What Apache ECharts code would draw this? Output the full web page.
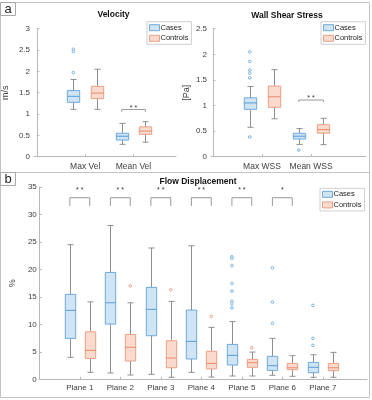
<!DOCTYPE html>
<html>
<head>
<meta charset="utf-8">
<script src="https://cdn.jsdelivr.net/npm/echarts@6/dist/echarts.min.js"></script>
<style>
  html, body { margin: 0; padding: 0; background: #fff; }
  #main { width: 372px; height: 400px; }
</style>
</head>
<body>
<div id="main"></div>
<script>
// box stats are [lower whisker, Q1, median, Q3, upper whisker]
const velCategories = ["Max Vel", "Mean Vel"];
const velCases = [[1.11, 1.275, 1.415, 1.55, 1.81], [0.29, 0.39, 0.48, 0.55, 0.78]];
const velControls = [[1.11, 1.36, 1.49, 1.65, 2.05], [0.34, 0.525, 0.6, 0.7, 0.82]];
const velCasesOutliers = [[2.52, 2.46, 1.97], []];
const velControlsOutliers = [[], []];
const velSignificance = ["", "* *"];

const wssCategories = ["Max WSS", "Mean WSS"];
const wssCases = [[0.574, 0.925, 1.05, 1.15, 1.37], [0.24, 0.345, 0.4, 0.457, 0.55]];
const wssControls = [[0.74, 0.965, 1.17, 1.38, 1.7], [0.235, 0.46, 0.53, 0.625, 0.75]];
const wssCasesOutliers = [[2.05, 1.86, 1.69, 1.63, 1.54, 0.385], [0.13]];
const wssControlsOutliers = [[], []];
const wssSignificance = ["", "* *"];

const flowCategories = ["Plane 1", "Plane 2", "Plane 3", "Plane 4", "Plane 5", "Plane 6", "Plane 7"];
const flowCases = [
  [4.0, 7.45, 12.55, 15.45, 24.5],
  [1.15, 10.05, 13.93, 19.45, 28.0],
  [0.9, 7.93, 12.73, 16.73, 23.9],
  [1.27, 3.7, 6.9, 12.6, 24.3],
  [0.6, 2.6, 4.35, 6.35, 10.5],
  [0.73, 1.63, 2.47, 4.18, 7.45],
  [0.36, 1.2, 2.18, 3.08, 4.47]
];
const flowControls = [
  [1.27, 3.8, 5.27, 8.65, 14.1],
  [0.78, 3.33, 5.82, 8.18, 13.93],
  [0.36, 2.1, 3.87, 7.02, 14.18],
  [0.4, 1.9, 2.9, 5.1, 9.45],
  [0.6, 2.18, 3.02, 3.63, 4.96],
  [0.55, 1.75, 2.1, 2.9, 4.3],
  [0.36, 1.56, 2.1, 2.9, 4.9]
];
const flowCasesOutliers = [[], [], [], [], [22.3, 22.0, 20.7, 17.45, 16.05, 14.2, 13.75, 13.0], [20.3, 14.05, 10.18], [13.45, 7.45, 6.18]];
const flowControlsOutliers = [[], [17.0], [16.3], [11.45], [5.75], [], []];
const flowSignificance = ["* *", "* *", "* *", "* *", "* *", "*", ""];

const FONT = "Liberation Sans";
const axisColor = "#b8b8b8";
const labelColor = "#404040";
const whiskerColor = "#8f8f8f";
const casesStyle = { fill: "#cfe4f4", stroke: "#6ea9db", median: "#5b9bd5", outlier: "#6eaadf" };
const controlsStyle = { fill: "#f9dacd", stroke: "#eba086", median: "#e58b6c", outlier: "#e9957a" };

const panels = [
  {
    cats: velCategories, cases: velCases, controls: velControls,
    casesOut: velCasesOutliers, controlsOut: velControlsOutliers, sig: velSignificance,
    grid: { left: 31, top: 28.7, width: 145, height: 128 },
    xMin: -0.06, xMax: 2.88, yMax: 3, yStep: 0.5, yName: "m/s", yNameGap: 24,
    offset: 0.245, boxHalf: 6.2, labelSize: 8.5, labelMargin: 5, yLabelMargin: 4,
    bracketTop: 1.107, bracketLeg: 1.05, starY: 1.16
  },
  {
    cats: wssCategories, cases: wssCases, controls: wssControls,
    casesOut: wssCasesOutliers, controlsOut: wssControlsOutliers, sig: wssSignificance,
    grid: { left: 211, top: 28.7, width: 155, height: 128 },
    xMin: -0.04, xMax: 3.12, yMax: 2.5, yStep: 0.5, yName: "[Pa]", yNameGap: 20,
    offset: 0.25, boxHalf: 6.2, labelSize: 8.5, labelMargin: 5, yLabelMargin: 4,
    bracketTop: 1.107, bracketLeg: 1.068, starY: 1.16
  },
  {
    cats: flowCategories, cases: flowCases, controls: flowControls,
    casesOut: flowCasesOutliers, controlsOut: flowControlsOutliers, sig: flowSignificance,
    grid: { left: 31, top: 187, width: 336, height: 192.3 },
    xMin: 0, xMax: 8.09, yMax: 35, yStep: 5, yName: "%", yNameGap: 16,
    offset: 0.245, boxHalf: 5.2, labelSize: 8, labelMargin: 4, yLabelMargin: 2.5,
    bracketTop: 33.05, bracketLeg: 31.55, starY: 34.55
  }
];

function boxRenderer(st, half) {
  return function (params, api) {
    const x = api.value(0);
    const lo = api.coord([x, api.value(1)]);
    const q1 = api.coord([x, api.value(2)]);
    const md = api.coord([x, api.value(3)]);
    const q3 = api.coord([x, api.value(4)]);
    const hi = api.coord([x, api.value(5)]);
    const cx = Math.round(lo[0]) + 0.5;
    const cap = 3;
    const ws = { stroke: whiskerColor, lineWidth: 1 };
    return {
      type: "group",
      children: [
        { type: "line", shape: { x1: cx, y1: hi[1], x2: cx, y2: q3[1] }, style: ws },
        { type: "line", shape: { x1: cx, y1: q1[1], x2: cx, y2: lo[1] }, style: ws },
        { type: "line", shape: { x1: cx - cap, y1: hi[1], x2: cx + cap, y2: hi[1] }, style: ws },
        { type: "line", shape: { x1: cx - cap, y1: lo[1], x2: cx + cap, y2: lo[1] }, style: ws },
        {
          type: "rect",
          shape: { x: cx - half, y: q3[1], width: half * 2, height: q1[1] - q3[1] },
          style: { fill: st.fill, stroke: st.stroke, lineWidth: 1 }
        },
        { type: "line", shape: { x1: cx - half, y1: md[1], x2: cx + half, y2: md[1] }, style: { stroke: st.median, lineWidth: 1 } }
      ]
    };
  };
}

function outlierRenderer(st) {
  return function (params, api) {
    const pt = api.coord([api.value(0), api.value(1)]);
    return {
      type: "circle",
      shape: { cx: pt[0], cy: pt[1], r: 1.3 },
      style: { fill: "#fff", stroke: st.outlier, lineWidth: 0.9 }
    };
  };
}

function bracketRenderer(p) {
  return function (params, api) {
    const x1 = api.value(0), x2 = api.value(1);
    const a = api.coord([x1, p.bracketLeg]);
    const b = api.coord([x1, p.bracketTop]);
    const c = api.coord([x2, p.bracketTop]);
    const d = api.coord([x2, p.bracketLeg]);
    const s = api.coord([(x1 + x2) / 2, p.starY]);
    return {
      type: "group",
      children: [
        {
          type: "polyline",
          shape: { points: [a, b, c, d] },
          style: { stroke: "#9a9a9a", lineWidth: 1, fill: null }
        },
        {
          type: "text",
          x: s[0], y: s[1] - 2.7,
          style: { text: p.sig[api.value(2)], fontSize: 7, fontFamily: FONT, fill: "#333", align: "center", verticalAlign: "top" }
        }
      ]
    };
  };
}

const grids = [], xAxes = [], yAxes = [], series = [];

panels.forEach((p, i) => {
  grids.push(p.grid);
  const ticks = p.cats.map((c, k) => k + 1);
  xAxes.push({
    type: "value", gridIndex: i, min: p.xMin, max: p.xMax,
    splitLine: { show: false },
    axisLine: { show: true, onZero: false, lineStyle: { color: axisColor } },
    axisTick: { show: true, inside: true, length: 2.5, customValues: ticks, lineStyle: { color: axisColor } },
    axisLabel: {
      customValues: ticks, formatter: v => p.cats[Math.round(v) - 1] || "",
      fontSize: p.labelSize, color: labelColor, fontFamily: FONT, margin: p.labelMargin
    }
  });
  yAxes.push({
    type: "value", gridIndex: i, min: 0, max: p.yMax, interval: p.yStep,
    name: p.yName, nameLocation: "middle", nameGap: p.yNameGap, nameRotate: 90,
    nameTextStyle: { fontSize: 9, color: labelColor, fontFamily: FONT },
    splitLine: { show: false },
    axisLine: { show: true, lineStyle: { color: axisColor } },
    axisTick: { show: true, inside: true, length: 2.5, lineStyle: { color: axisColor } },
    axisLabel: { fontSize: 8, color: labelColor, fontFamily: FONT, margin: p.yLabelMargin }
  });

  [["Cases", p.cases, p.casesOut, -p.offset, casesStyle], ["Controls", p.controls, p.controlsOut, p.offset, controlsStyle]].forEach(([name, stats, outs, off, st]) => {
    series.push({
      name, type: "custom", xAxisIndex: i, yAxisIndex: i,
      itemStyle: { color: st.fill, borderColor: st.stroke },
      encode: { x: 0, y: [1, 2, 3, 4, 5] },
      renderItem: boxRenderer(st, p.boxHalf),
      data: stats.map((v, k) => [k + 1 + off].concat(v))
    });
    const pts = [];
    outs.forEach((list, k) => list.forEach(v => pts.push([k + 1 + off, v])));
    series.push({
      name, type: "custom", xAxisIndex: i, yAxisIndex: i,
      itemStyle: { color: st.fill, borderColor: st.stroke },
      encode: { x: 0, y: 1 },
      renderItem: outlierRenderer(st),
      data: pts
    });
  });

  const brackets = [];
  p.sig.forEach((s, k) => { if (s) brackets.push([k + 1 - p.offset, k + 1 + p.offset, k]); });
  series.push({
    type: "custom", xAxisIndex: i, yAxisIndex: i,
    encode: { x: [0, 1] },
    renderItem: bracketRenderer(p),
    data: brackets
  });
});

function legendAt(left, top) {
  return {
    left, top, orient: "vertical",
    itemWidth: 10, itemHeight: 6, itemGap: 2.6, padding: [2, 3, 2, 2],
    borderColor: "#cfcfcf", borderWidth: 1, backgroundColor: "#fff",
    textStyle: { fontSize: 7.5, color: "#222", fontFamily: FONT, padding: [0, 0, 0, -4] },
    selectedMode: false,
    data: [
      { name: "Cases", icon: "rect", itemStyle: { color: casesStyle.fill, borderColor: casesStyle.stroke, borderWidth: 1 } },
      { name: "Controls", icon: "rect", itemStyle: { color: controlsStyle.fill, borderColor: controlsStyle.stroke, borderWidth: 1 } }
    ]
  };
}

const titleStyle = { fontSize: 8.5, fontWeight: "bold", color: "#111", fontFamily: FONT };

const chart = echarts.init(document.getElementById("main"));
chart.setOption({
  animation: false,
  textStyle: { fontFamily: FONT },
  title: [
    { text: "Velocity", left: 113.5, top: 10, textAlign: "center", padding: 0, textStyle: titleStyle },
    { text: "Wall Shear Stress", left: 287, top: 11, textAlign: "center", padding: 0, textStyle: titleStyle },
    { text: "Flow Displacement", left: 198, top: 177.5, textAlign: "center", padding: 0, textStyle: titleStyle }
  ],
  legend: [legendAt(147, 21.7), legendAt(321, 21.7), legendAt(320, 188.3)],
  grid: grids,
  xAxis: xAxes,
  yAxis: yAxes,
  series: series,
  graphic: [
    { type: "rect", shape: { x: 0.5, y: 2.5, width: 369, height: 395 }, style: { fill: null, stroke: "#c4c4c4", lineWidth: 1 }, z: 0 },
    { type: "line", shape: { x1: 0, y1: 172.5, x2: 370, y2: 172.5 }, style: { stroke: "#c4c4c4", lineWidth: 1 } },
    { type: "rect", shape: { x: 0.5, y: 2.5, width: 15, height: 13 }, style: { fill: "#fff", stroke: "#a8a8a8", lineWidth: 1 } },
    { type: "text", x: 8, y: 9, style: { text: "a", fontSize: 13, fontFamily: FONT, fill: "#222", align: "center", verticalAlign: "middle" } },
    { type: "rect", shape: { x: 0.5, y: 172.5, width: 15, height: 13 }, style: { fill: "#fff", stroke: "#a8a8a8", lineWidth: 1 } },
    { type: "text", x: 8, y: 179, style: { text: "b", fontSize: 13, fontFamily: FONT, fill: "#222", align: "center", verticalAlign: "middle" } }
  ]
});
</script>
</body>
</html>
